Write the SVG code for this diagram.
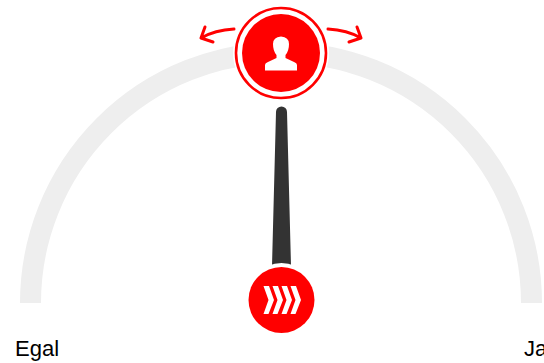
<svg xmlns="http://www.w3.org/2000/svg" width="544" height="363" viewBox="0 0 544 363">
  <style>
    .lbl{font-family:"Liberation Sans",Arial,sans-serif;font-size:22px;fill:#000}
    .arrow{fill:none;stroke:#f00;stroke-width:3;stroke-linecap:round;stroke-linejoin:round}
  </style>
  <rect width="544" height="363" fill="#fff"/>
  <g id="gauge-arc"><path d="M30.5 303A250.500 250.500 0 0 1 531.500 303" fill="none" stroke="#eeeeee" stroke-width="21"/></g>
  <g id="connectors">
    <path class="arrow" d="M234 29Q215 30 201 38M205 27L201 38L213 42"/>
    <path class="arrow" d="M328 29Q347 30 361 38M357 27L361 38L349 42"/>
  </g>
  <g id="needle">
    <path d="M276 112A5.500 5.500 0 0 1 287 112L291 266H272Z" fill="#333333"/>
  </g>
  <g id="base-node">
    <circle cx="281.500" cy="298" r="35" fill="#fff"/>
    <circle cx="281.500" cy="300" r="33" fill="#f00"/>
    <g fill="#fff">
      <path d="M263.500 286H269L274 300L268.500 314H263.500L268.500 300Z"/>
      <path d="M272.500 286H278L283 300L277.500 314H272.500L277.500 300Z"/>
      <path d="M281.500 286H287L292 300L286.500 314H281.500L286.500 300Z"/>
      <path d="M290.500 286H296L301 300L295.500 314H290.500L295.500 300Z"/>
    </g>
  </g>
  <g id="user-node">
    <circle cx="281" cy="53" r="48" fill="#fff"/>
    <circle cx="281" cy="53" r="45" fill="#fff" stroke="#f00" stroke-width="2.600"/>
    <circle cx="281" cy="53" r="39" fill="#f00"/>
    <path d="M265 70.500V65Q265 63 268 62L276.500 58V55Q273 51 273 44Q273 37 281 36.500Q289 37 289 44Q289 51 285.500 55V58L294 62Q297 63 297 65V70.500Z" fill="#fff"/>
  </g>
  <text class="lbl" x="15" y="356">Egal</text>
  <text class="lbl" x="524" y="356">Ja</text>
</svg>
